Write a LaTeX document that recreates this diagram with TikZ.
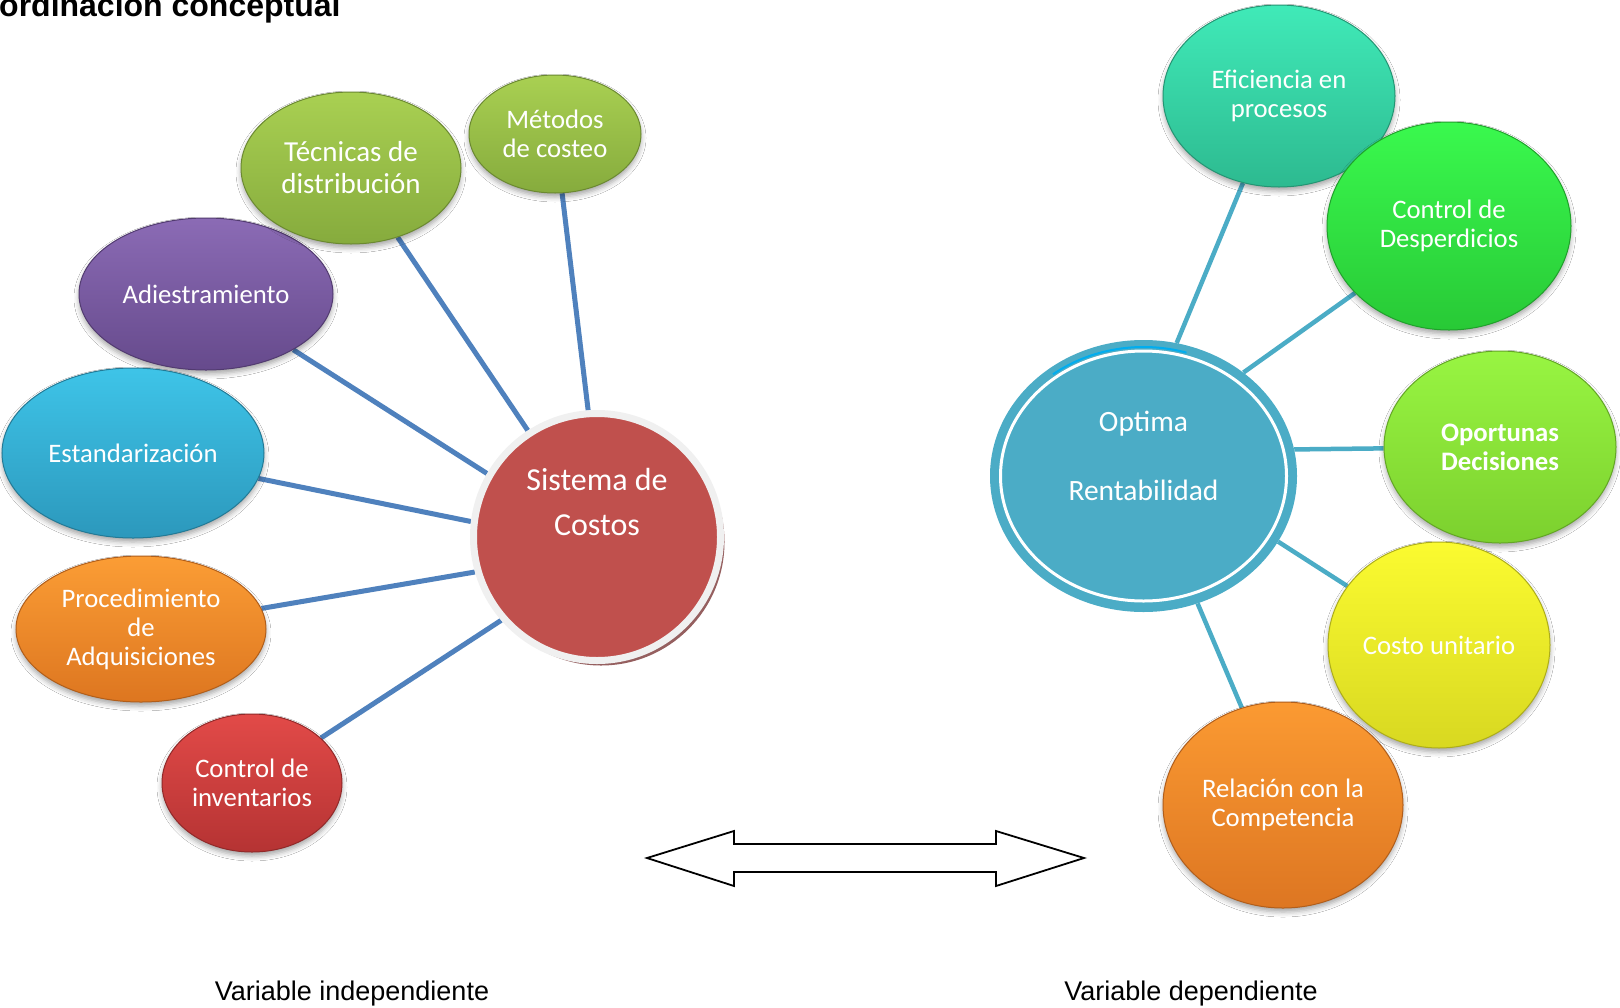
\documentclass[tikz,border=0pt]{standalone}
\usepackage{fontspec}
\setmainfont{Carlito}
\newfontfamily\arialfont{Liberation Sans}
\usetikzlibrary{shapes.geometric,shadows,shadows.blur}

% bubble colours (top / bottom of the vertical shading)
\definecolor{metT}{HTML}{A9D052}\definecolor{metB}{HTML}{86AB3D}
\definecolor{adiT}{HTML}{8B6BB5}\definecolor{adiB}{HTML}{664A8C}
\definecolor{estT}{HTML}{3EC4E8}\definecolor{estB}{HTML}{2C98BC}
\definecolor{proT}{HTML}{FB9D35}\definecolor{proB}{HTML}{DD7620}
\definecolor{invT}{HTML}{E24A48}\definecolor{invB}{HTML}{B53333}
\definecolor{efiT}{HTML}{40EAB8}\definecolor{efiB}{HTML}{2DBA90}
\definecolor{desT}{HTML}{3AF94E}\definecolor{desB}{HTML}{28C936}
\definecolor{opoT}{HTML}{98F542}\definecolor{opoB}{HTML}{7CD02E}
\definecolor{cosT}{HTML}{FBFB30}\definecolor{cosB}{HTML}{D8D821}
\definecolor{relT}{HTML}{FB9A32}\definecolor{relB}{HTML}{DD7622}
\definecolor{sisRed}{HTML}{C0504D}
\definecolor{sisRing}{HTML}{F0F0F0}
\definecolor{sisShade}{HTML}{8A4E4E}
\definecolor{optTeal}{HTML}{4BACC6}
\definecolor{lineL}{HTML}{4F81BD}
\definecolor{lineR}{HTML}{4BACC6}

\pgfdeclarelayer{background}
\pgfsetlayers{background,main}

\begin{document}
\begin{tikzpicture}[x=1pt,y=-1pt,
  bub/.style 2 args={ellipse, inner sep=0pt, align=center, text=white,
    font=\fontsize{26.7}{29}\selectfont, top color=#1, bottom color=#2,
    draw=#2!80!black, line width=1pt,
    blur shadow={shadow xshift=0pt, shadow yshift=-4pt,
      shadow blur radius=5pt, shadow opacity=35}},
  linkL/.style={draw=lineL, line width=5pt},
  linkR/.style={draw=lineR, line width=4.5pt},
  bigtext/.style={anchor=base, text=white, inner sep=0pt}]

\clip (0,0) rectangle (1620,1007);

% heading
\node[anchor=base west, inner sep=0pt,
  font=\arialfont\bfseries\fontsize{32}{32}\selectfont] (title) at (-1,16.7)
  {ordinación conceptual};

% ---------- independent variable ----------
\node[circle, minimum size=247pt, fill=sisRed, draw=sisRing, line width=7pt,
  drop shadow={shadow xshift=4pt, shadow yshift=-5pt, fill=sisShade, opacity=0.9}]
  (sis) at (597,537) {};
\node[bigtext, font=\fontsize{32}{44}\selectfont] (sisA) at (597,490.7) {Sistema de};
\node[bigtext, font=\fontsize{32}{44}\selectfont] (sisB) at (597,535) {Costos};

\node[bub={metT}{metB}, minimum width=172pt, minimum height=118pt] (met) at (555,134) {Métodos\\de costeo};
\node[bub={adiT}{adiB}, minimum width=254pt, minimum height=152pt] (adi) at (206,294) {Adiestramiento};
\node[bub={metT}{metB}, minimum width=220pt, minimum height=152pt,
  font=\fontsize{29}{32}\selectfont] (tec) at (351,168) {Técnicas de\\distribución};
\node[bub={estT}{estB}, minimum width=262pt, minimum height=170pt] (est) at (133,453) {Estandarización};
\node[bub={proT}{proB}, minimum width=250pt, minimum height=146pt] (pro) at (141,629) {Procedimiento\\de\\Adquisiciones};
\node[bub={invT}{invB}, minimum width=180pt, minimum height=138pt] (inv) at (252,783) {Control de\\inventarios};

% ---------- dependent variable ----------
\node[ellipse, minimum width=307pt, minimum height=272pt, fill=optTeal, inner sep=0pt]
  (opt) at (1143.5,476) {};
\draw[white, line width=3pt] (opt.center) ellipse [x radius=143, y radius=125];
\draw[cyan, line width=2pt, shift={(opt.center)}]
  (-128:147 and 129) arc[start angle=-128, end angle=-73, x radius=147, y radius=129];
\node[bigtext, font=\fontsize{29.5}{30}\selectfont] (optA) at (1143.5,431.7) {Optima};
\node[bigtext, font=\fontsize{29.5}{30}\selectfont] (optB) at (1143.5,500.7) {Rentabilidad};

\node[bub={efiT}{efiB}, minimum width=232pt, minimum height=182pt] (efi) at (1279,96) {Eficiencia en\\procesos};
\node[bub={desT}{desB}, minimum width=244pt, minimum height=208pt] (des) at (1449,226) {Control de\\Desperdicios};
\node[bub={opoT}{opoB}, minimum width=232pt, minimum height=192pt,
  font=\bfseries\fontsize{26.7}{29}\selectfont] (opo) at (1500,447) {Oportunas\\Decisiones};
\node[bub={cosT}{cosB}, minimum width=222pt, minimum height=206pt] (cos) at (1439,645) {Costo unitario};
\node[bub={relT}{relB}, minimum width=240pt, minimum height=206pt] (rel) at (1283,805) {Relación con la\\Competencia};

% connectors, behind the bubbles
\begin{pgfonlayer}{background}
  \fill[white] (0,0) rectangle (1620,1007);
  \draw[linkL] (met) -- (sis.94);
  \draw[linkL] (tec) -- (sis.123);
  \draw[linkL] (adi) -- (sis.150);
  \draw[linkL] (est) -- (sis.173);
  \draw[linkL] (pro) -- (sis.-164);
  \draw[linkL] (inv) -- (sis.-139);
  \draw[linkR] (efi) -- (opt.76);
  \draw[linkR] (des) -- (opt.46);
  \draw[linkR] (opo) -- (opt.10);
  \draw[linkR] (cos) -- (opt.-26);
  \draw[linkR] (rel) -- (opt.-67);
\end{pgfonlayer}

% two-headed block arrow between the variables
\draw[line width=1.8pt, fill=white, line join=miter]
  (647,858) -- (734,831) -- (734,844) -- (996,844) -- (996,831) -- (1084,858)
  -- (996,886) -- (996,872) -- (734,872) -- (734,886) -- cycle;

% captions
\node[anchor=base, inner sep=0pt, font=\arialfont\fontsize{27}{27}\selectfont]
  (vind) at (352,1000) {Variable independiente};
\node[anchor=base, inner sep=0pt, font=\arialfont\fontsize{27}{27}\selectfont]
  (vdep) at (1191,1000) {Variable dependiente};

\end{tikzpicture}
\end{document}
